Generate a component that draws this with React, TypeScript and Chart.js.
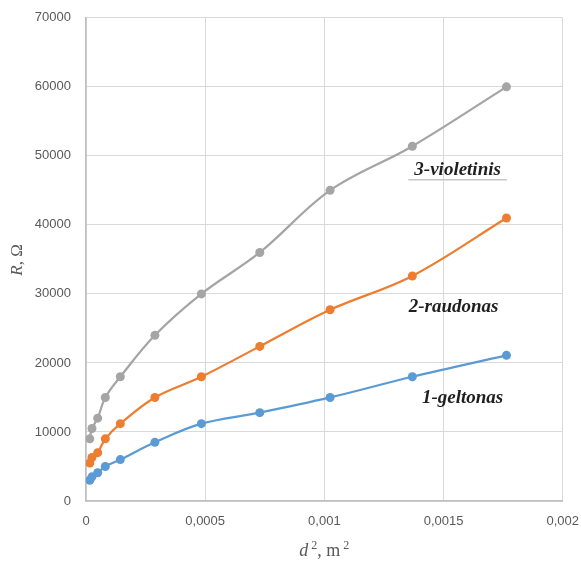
import React, { useEffect, useRef } from "react";
import { Chart, registerables } from "chart.js";

Chart.register(...registerables);

const d2Values = [0.000016, 0.000025, 0.000049, 0.000081, 0.000144, 0.000289, 0.000484, 0.000729, 0.001024, 0.001369, 0.001764];
const geltonas = [3000, 3500, 4100, 5000, 6000, 8500, 11200, 12800, 15000, 18000, 21100];
const raudonas = [5500, 6300, 7000, 9000, 11200, 15000, 18000, 22400, 27700, 32600, 41000];
const violetinis = [9000, 10500, 12000, 15000, 18000, 24000, 30000, 36000, 45000, 51400, 60000];
const seriesNames = ["1-geltonas", "2-raudonas", "3-violetinis"];
const colors = ["#5B9BD5", "#ED7D31", "#A5A5A5"];
// label anchor positions in data units (x, y)
const labelPos = [
  [0.00158, 14900],
  [0.001542, 28060],
  [0.001559, 48000],
];

const fmt = (v: number) => (v === 0 ? "0" : String(v).replace(".", ","));

const OFFSET_Y = 5;

export default function App() {
  const ref = useRef<HTMLCanvasElement>(null);
  useEffect(() => {
    const ctx = ref.current!;
    const mk = (ys: number[]) => d2Values.map((x, i) => ({ x, y: ys[i] }));
    const labelsPlugin = {
      id: "labelsPlugin",
      afterDatasetsDraw(chart: any) {
        const c = chart.ctx;
        const xs = chart.scales.x;
        const ys = chart.scales.y;
        c.save();
        c.fillStyle = "#1f1f1f";
        c.font = "italic bold 19px 'Liberation Serif'";
        c.textAlign = "center";
        c.textBaseline = "middle";
        seriesNames.forEach((n, i) => {
          const px = xs.getPixelForValue(labelPos[i][0]);
          const py = ys.getPixelForValue(labelPos[i][1]);
          c.fillText(n, px, py);
          if (i === 2) {
            const w = c.measureText(n).width;
            c.strokeStyle = "#c8c8c8";
            c.lineWidth = 1.5;
            c.beginPath();
            c.moveTo(px - w / 2 - 6, py + 10);
            c.lineTo(px + w / 2 + 6, py + 10);
            c.stroke();
          }
        });
        c.fillStyle = "#595959";
        const cx = (chart.chartArea.left + chart.chartArea.right) / 2;
        const by = 556 + OFFSET_Y;
        const parts: [string, string, number][] = [
          ["d", "italic 18px 'Liberation Serif'", 0],
          [" 2", "12px 'Liberation Serif'", -7],
          [", m", "18px 'Liberation Serif'", 0],
          [" 2", "12px 'Liberation Serif'", -7],
        ];
        let total = 0;
        parts.forEach((p) => {
          c.font = p[1];
          total += c.measureText(p[0]).width;
        });
        let x0 = cx - total / 2;
        c.textAlign = "left";
        c.textBaseline = "alphabetic";
        parts.forEach((p) => {
          c.font = p[1];
          c.fillText(p[0], x0, by + p[2]);
          x0 += c.measureText(p[0]).width;
        });
        c.translate(22, 260 + OFFSET_Y);
        c.rotate(-Math.PI / 2);
        const yparts: [string, string][] = [
          ["R", "italic 17px 'Liberation Serif'"],
          [", Ω", "17px 'Liberation Serif'"],
        ];
        let tw = 0;
        yparts.forEach((p) => {
          c.font = p[1];
          tw += c.measureText(p[0]).width;
        });
        let yx = -tw / 2;
        yparts.forEach((p) => {
          c.font = p[1];
          c.fillText(p[0], yx, 0);
          yx += c.measureText(p[0]).width;
        });
        c.restore();
      },
    };
    const chart = new Chart(ctx, {
      type: "line",
      data: {
        datasets: [geltonas, raudonas, violetinis].map((ys, i) => ({
          label: seriesNames[i],
          data: mk(ys),
          borderColor: colors[i],
          backgroundColor: colors[i],
          borderWidth: 2.25,
          pointRadius: 4.5,
          pointHoverRadius: 4.5,
          pointBorderWidth: 0,
          tension: 0.35,
          fill: false,
        })),
      },
      options: {
        animation: false,
        responsive: false,
        layout: { padding: { top: 13, right: 11, left: 0, bottom: 0 } },
        plugins: { legend: { display: false }, tooltip: { enabled: false } },
        scales: {
          x: {
            type: "linear",
            min: 0,
            max: 0.002,
            ticks: {
              stepSize: 0.0005,
              color: "#595959",
              font: { family: "'Liberation Sans'", size: 13 },
              padding: 13,
              callback: (v: any) => fmt(Number(Number(v).toPrecision(6))),
              maxRotation: 0,
            },
            grid: { color: "#d9d9d9", lineWidth: 1, drawTicks: false },
            border: { color: "#bfbfbf", width: 1.5 },
            afterFit: (s: any) => {
              s.height = 60;
            },
          },
          y: {
            min: 0,
            max: 70000,
            ticks: {
              stepSize: 10000,
              color: "#595959",
              font: { family: "'Liberation Sans'", size: 13 },
              padding: 15,
              callback: (v: any) => String(v),
            },
            grid: { color: "#d9d9d9", lineWidth: 1, drawTicks: false },
            border: { color: "#bfbfbf", width: 1.5 },
            afterFit: (s: any) => {
              s.width = 86;
            },
          },
        },
      },
      plugins: [labelsPlugin],
    } as any);
    return () => chart.destroy();
  }, []);
  return (
    <div style={{ position: "fixed", left: 0, top: 0, width: 581, height: 561, background: "#fff", overflow: "hidden" }}>
      <canvas
        ref={ref}
        width={592}
        height={566}
        style={{ display: "block", position: "absolute", left: 0, top: -OFFSET_Y }}
      />
    </div>
  );
}
